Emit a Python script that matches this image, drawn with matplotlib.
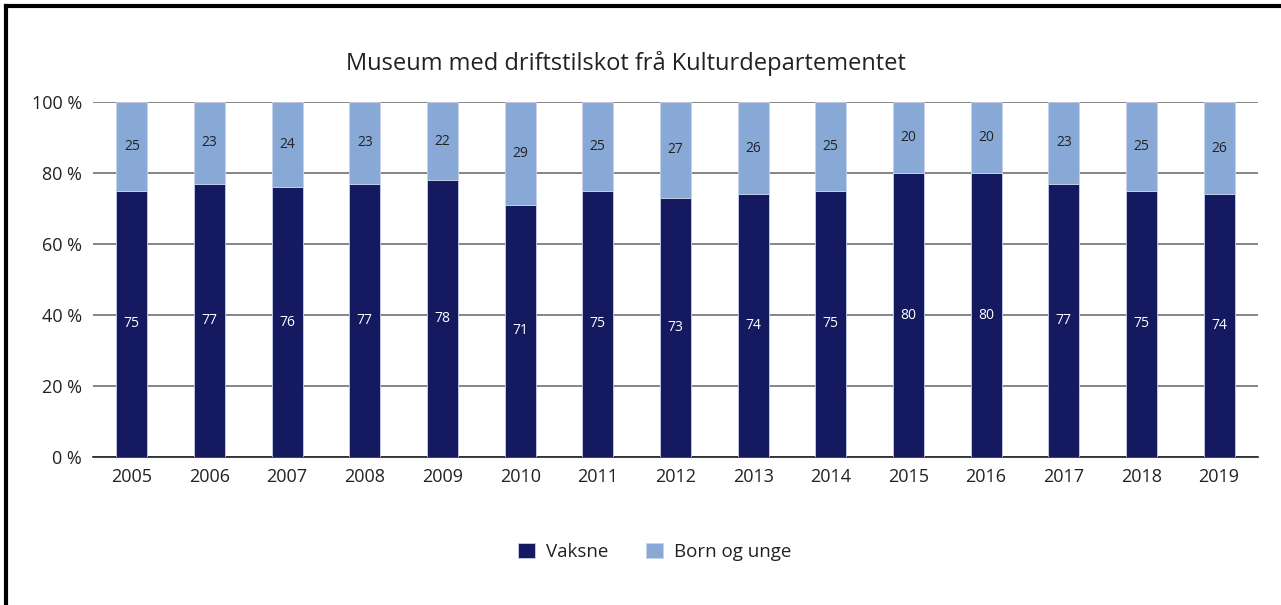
import matplotlib.pyplot as plt
import numpy as np
from matplotlib.lines import Line2D

plt.rcParams['font.family'] = ['Open Sans', 'DejaVu Sans']

aar = ['2005', '2006', '2007', '2008', '2009', '2010', '2011', '2012',
       '2013', '2014', '2015', '2016', '2017', '2018', '2019']
vaksne = [75, 77, 76, 77, 78, 71, 75, 73, 74, 75, 80, 80, 77, 75, 74]
born_unge = [25, 23, 24, 23, 22, 29, 25, 27, 26, 25, 20, 20, 23, 25, 26]

mork = '#151a60'
lys = '#88a9d6'

fig = plt.figure(figsize=(12.81, 6.05), dpi=100)
ax = fig.add_axes([0.0726, 0.2446, 0.9094, 0.5868])

x = np.arange(len(aar))
b1 = ax.bar(x, vaksne, width=0.4, color=mork, edgecolor='#c8d2ea', linewidth=0.6,
            label='Vaksne', zorder=3)
b2 = ax.bar(x, born_unge, width=0.4, bottom=vaksne, color=lys, edgecolor='#c8d2ea',
            linewidth=0.6, label='Born og unge', zorder=3)

for i in range(len(aar)):
    ax.text(x[i], vaksne[i] / 2, str(vaksne[i]), ha='center', va='center',
            color='white', fontsize=10, zorder=4)
    ax.text(x[i], vaksne[i] + born_unge[i] / 2, str(born_unge[i]), ha='center',
            va='center', color='#222222', fontsize=10, zorder=4)

ax.set_xlim(-0.5, len(aar) - 0.5)
ax.set_ylim(0, 100)
ax.set_yticks([0, 20, 40, 60, 80, 100])
ax.set_yticklabels(['0 %', '20 %', '40 %', '60 %', '80 %', '100 %'])
ax.set_xticks(x)
ax.set_xticklabels(aar)
ax.tick_params(length=0, labelsize=13, colors='#222222', pad=8)
ax.tick_params(axis='y', pad=8)
ax.yaxis.grid(True, color='#858585', linewidth=1.4, zorder=0)
ax.set_axisbelow(True)
for s in ['top', 'right', 'left']:
    ax.spines[s].set_visible(False)
ax.spines['bottom'].set_color('#222222')
ax.spines['bottom'].set_linewidth(1.2)

fig.text(0.4887, 0.895, 'Museum med driftstilskot frå Kulturdepartementet',
         ha='center', va='center', fontsize=17, color='#222222')

fig.legend(handles=[b1, b2], loc='center', bbox_to_anchor=(0.511, 0.088), ncol=2,
           frameon=False, fontsize=13.5, handlelength=0.9, handleheight=0.9,
           columnspacing=2.0, handletextpad=0.6, labelcolor='#222222')

# ramme oppe og til venstre
fig.add_artist(Line2D([0.0047, 1.0], [0.9895, 0.9895], color='black', linewidth=3,
                      transform=fig.transFigure))
fig.add_artist(Line2D([0.0047, 0.0047], [0.0, 0.9895], color='black', linewidth=3,
                      transform=fig.transFigure))

fig.savefig('out.png', dpi=100, facecolor='white')
